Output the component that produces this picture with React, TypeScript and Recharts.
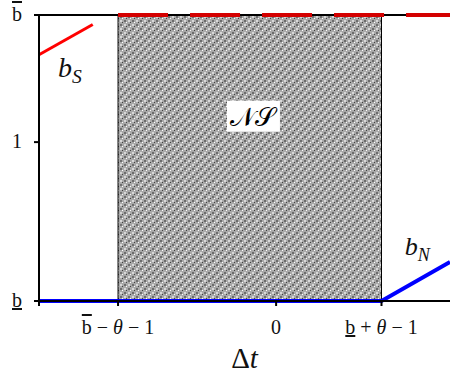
import { ComposedChart, Line, XAxis, YAxis, ReferenceArea, ReferenceLine, ReferenceDot } from 'recharts'

// x units: 0 at centre, b̄−θ−1 = -1.5, b̲+θ−1 = 1 ; y units: b̲ = 0, 1, b̄ = 1.8
const X_DOMAIN = [-2.25, 1.65]
const Y_DOMAIN = [0, 1.8]
const xTicks = [-2.25, -1.5, 0, 1]
const yTicks = [0, 1, 1.8]

const bS = [{ x: -2.25, y: 1.55 }, { x: -1.74, y: 1.74 }]
const bN = [{ x: -2.25, y: 0 }, { x: 1, y: 0 }, { x: 1.65, y: 0.245 }]
const upperDashed = [{ x: -1.5, y: 1.8 }, { x: 1.65, y: 1.8 }]

const nsRegion = { x1: -1.5, x2: 1, y1: 0, y2: 1.8 }
const nsLabelAt = { x: -0.22, y: 1.16 }
const bSLabelAt = { x: -2.07, y: 1.41 }
const bNLabelAt = { x: 1.22, y: 0.29 }

const SERIF = '"Liberation Serif", "DejaVu Serif", serif'

function XTick({ x, y, payload }: any) {
  const v = payload.value
  const ty = y + 26
  if (v === 0) return <text x={x} y={ty} textAnchor="middle" fontFamily={SERIF} fontSize={20} fill="#111">0</text>
  if (v === -1.5)
    return (
      <text x={x} y={ty} textAnchor="middle" fontFamily={SERIF} fontSize={20} fill="#111">
        <tspan textDecoration="overline">b</tspan> − <tspan fontStyle="italic">θ</tspan> − 1
      </text>
    )
  if (v === 1)
    return (
      <text x={x} y={ty} textAnchor="middle" fontFamily={SERIF} fontSize={20} fill="#111">
        <tspan textDecoration="underline">b</tspan> + <tspan fontStyle="italic">θ</tspan> − 1
      </text>
    )
  return null
}

function YTick({ y, payload }: any) {
  const v = payload.value
  const deco = v === 0 ? 'underline' : v === 1.8 ? 'overline' : undefined
  return (
    <text x={17} y={y + 6} textAnchor="middle" fontFamily={SERIF} fontSize={20} fill="#111">
      <tspan textDecoration={deco}>{v === 1 ? '1' : 'b'}</tspan>
    </text>
  )
}

function DeltaLabel({ viewBox }: any) {
  const cx = viewBox.x + viewBox.width / 2
  return (
    <text x={cx} y={viewBox.y + viewBox.height - 7} textAnchor="middle" fontFamily={SERIF} fontSize={29} fill="#111">
      Δ<tspan fontStyle="italic">t</tspan>
    </text>
  )
}

function NSLabel({ viewBox }: any) {
  const cx = viewBox.x
  const cy = viewBox.y
  return (
    <g>
      <rect x={cx - 26} y={cy - 16} width={53} height={31} fill="#fff" />
      <text x={cx} y={cy + 9} textAnchor="middle" fontFamily={SERIF} fontSize={26} fill="#000">
        𝒩𝒮
      </text>
    </g>
  )
}

function SubLabel({ viewBox, sub, size }: any) {
  return (
    <text x={viewBox.x} y={viewBox.y} fontFamily={SERIF} fontStyle="italic" fontSize={size} fill="#111">
      b<tspan dy={6} fontSize={size * 0.7}>{sub}</tspan>
    </text>
  )
}

export default function App() {
  return (
    <div style={{ position: 'absolute', left: 0, top: 0, width: 450, height: 375, background: '#fff' }}>
      <ComposedChart width={450} height={375} margin={{ top: 15, right: 0, left: 0, bottom: 0 }}>
        <defs>
          <pattern id="nsFill" width="8" height="8" patternUnits="userSpaceOnUse">
            <rect width="8" height="8" fill="#a8a8a8" />
            <rect x="0" y="0" width="2" height="2" fill="#6c6c6c" />
            <rect x="4" y="4" width="2" height="2" fill="#6c6c6c" />
            <rect x="4" y="0" width="2" height="2" fill="#d8d8d8" />
            <rect x="0" y="4" width="2" height="2" fill="#d8d8d8" />
            <rect x="2" y="2" width="1" height="1" fill="#ffffff" />
            <rect x="6" y="6" width="1" height="1" fill="#ffffff" />
            <rect x="6" y="2" width="1" height="1" fill="#404040" />
            <rect x="2" y="6" width="1" height="1" fill="#404040" />
          </pattern>
        </defs>
        <XAxis
          type="number"
          dataKey="x"
          domain={X_DOMAIN}
          ticks={xTicks}
          interval={0}
          height={74}
          tickSize={5}
          axisLine={{ stroke: '#000', strokeWidth: 2 }}
          tickLine={{ stroke: '#000', strokeWidth: 2 }}
          tick={<XTick />}
          label={<DeltaLabel />}
        />
        <YAxis
          type="number"
          domain={Y_DOMAIN}
          ticks={yTicks}
          interval={0}
          width={39}
          tickSize={5}
          axisLine={{ stroke: '#000', strokeWidth: 2 }}
          tickLine={{ stroke: '#000', strokeWidth: 2 }}
          tick={<YTick />}
        />
        <ReferenceArea {...nsRegion} fill="url(#nsFill)" fillOpacity={1} stroke="#000" strokeWidth={1} />
        <ReferenceLine y={1.8} stroke="#000" strokeWidth={2} />
        <Line data={upperDashed} dataKey="y" stroke="#d40000" strokeWidth={4} strokeDasharray="50 22" dot={false} isAnimationActive={false} />
        <Line data={bS} dataKey="y" stroke="#ff0000" strokeWidth={3} dot={false} isAnimationActive={false} />
        <Line data={bN} dataKey="y" stroke="#0000ff" strokeWidth={4} dot={false} isAnimationActive={false} />
        <ReferenceDot {...nsLabelAt} r={0} fill="none" stroke="none" label={<NSLabel />} />
        <ReferenceDot {...bSLabelAt} r={0} fill="none" stroke="none" label={<SubLabel sub="S" size={28} />} />
        <ReferenceDot {...bNLabelAt} r={0} fill="none" stroke="none" label={<SubLabel sub="N" size={26} />} />
      </ComposedChart>
    </div>
  )
}
